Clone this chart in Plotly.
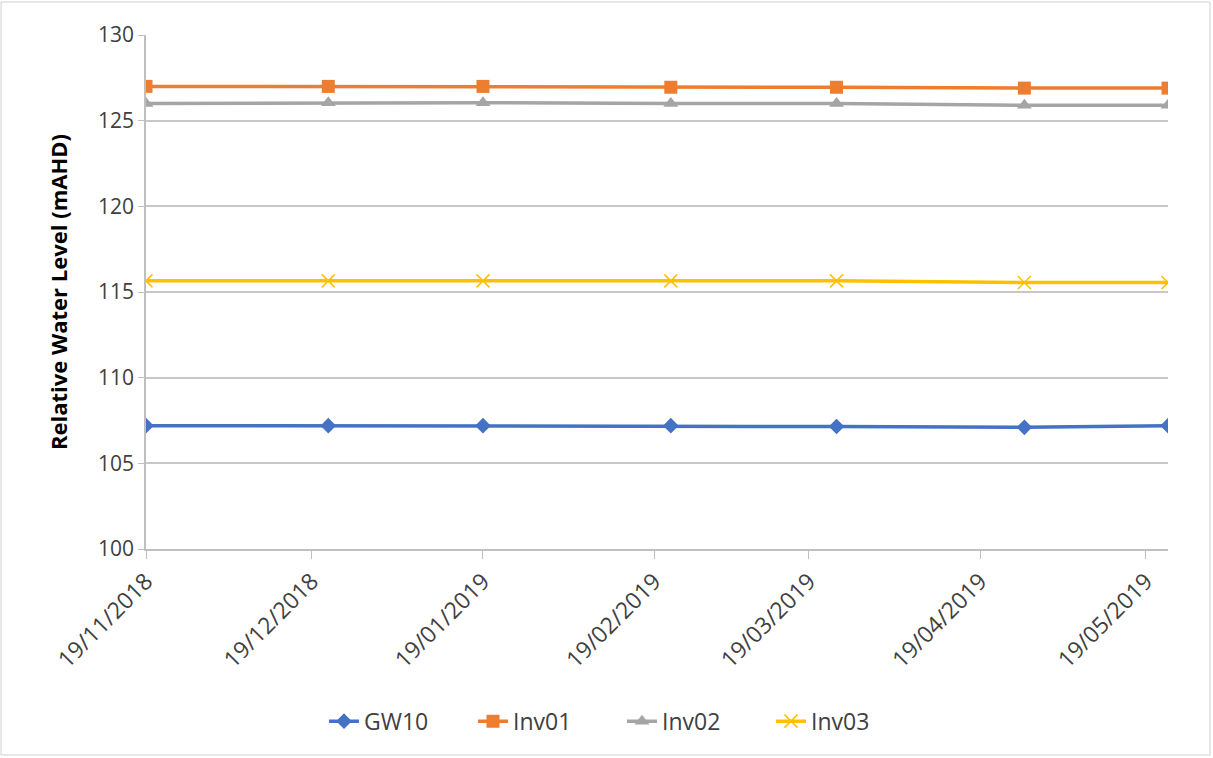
import plotly.graph_objects as go

dates = ["2018-11-19", "2018-12-22", "2019-01-19", "2019-02-22", "2019-03-24", "2019-04-27", "2019-05-23"]
gw10 = [107.2, 107.2, 107.2, 107.2, 107.15, 107.1, 107.2]
inv01 = [127.0, 127.0, 127.0, 126.95, 126.95, 126.9, 126.9]
inv02 = [126.0, 126.05, 126.05, 126.0, 126.0, 125.9, 125.9]
inv03 = [115.65, 115.65, 115.65, 115.65, 115.65, 115.55, 115.55]

tick_dates = ["2018-11-19", "2018-12-19", "2019-01-19", "2019-02-19", "2019-03-19", "2019-04-19", "2019-05-19"]
tick_text = ["19/11/2018", "19/12/2018", "19/01/2019", "19/02/2019", "19/03/2019", "19/04/2019", "19/05/2019"]

fig = go.Figure()
series = [
    ("GW10", gw10, "#4472C4", dict(symbol="diamond", size=12)),
    ("Inv01", inv01, "#ED7D31", dict(symbol="square", size=13)),
    ("Inv02", inv02, "#A5A5A5", dict(symbol="triangle-up", size=13)),
    ("Inv03", inv03, "#FFC000", dict(symbol="x-thin-open", size=13, line=dict(width=1.5, color="#FFD44F"))),
]
for name, vals, col, mk in series:
    mk = dict(mk)
    mk.setdefault("color", col)
    fig.add_trace(go.Scatter(x=dates, y=vals, name=name, mode="lines+markers",
                             line=dict(color=col, width=3.5), marker=mk))

PW = 1213 - 146 - 45
PH = 758 - 35 - 209
fig.update_layout(
    width=1213, height=758,
    margin=dict(l=146, r=45, t=35, b=209),
    paper_bgcolor="white", plot_bgcolor="white",
    font=dict(family="Open Sans, Liberation Sans, sans-serif", color="#404040"),
    legend=dict(orientation="h", x=(622 - 146) / PW, xanchor="center", y=-0.335, yanchor="middle",
                font=dict(size=23, color="#404040"), traceorder="normal", entrywidth=104),
    shapes=[dict(type="rect", xref="paper", yref="paper",
                 x0=(1 - 146) / PW, x1=(1210 - 146) / PW,
                 y0=(549 - 755) / PH, y1=(549 - 2) / PH,
                 line=dict(color="#d0d0d0", width=1))],
)
fig.update_xaxes(
    type="date", range=["2018-11-19", "2019-05-23"],
    tickvals=tick_dates, ticktext=tick_text, tickangle=-45,
    tickfont=dict(size=23, color="#404040"),
    showgrid=False, showline=True, linecolor="#BFBFBF", linewidth=1.5,
    ticks="outside", ticklen=8, tickcolor="#BFBFBF",
)
fig.update_yaxes(
    range=[100, 130], dtick=5,
    tickfont=dict(size=21, color="#404040"),
    showgrid=True, gridcolor="#C8C8C8", gridwidth=1.5,
    showline=True, linecolor="#BFBFBF", linewidth=1.5,
    ticks="outside", ticklen=6, tickcolor="#BFBFBF",
    zeroline=False,
    title=dict(text="<b>Relative Water Level (mAHD)</b>", font=dict(size=22, color="black"), standoff=24),
)

fig.write_html("out.html")
